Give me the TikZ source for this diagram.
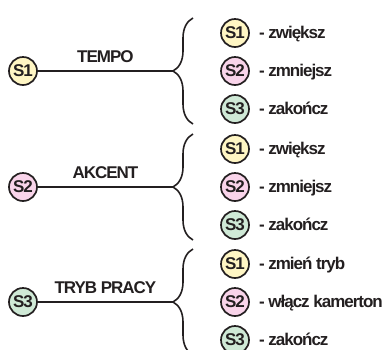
\documentclass[tikz,border=0pt]{standalone}
\usepackage{fontspec}
\setmainfont{Liberation Sans}
\newfontfamily\heavy{Liberation Sans}[LetterSpace=-6]
\usepackage{tikz}
\usetikzlibrary{positioning,decorations.pathreplacing}
\definecolor{ink}{HTML}{231F20}
\definecolor{sone}{HTML}{FFF6C4}
\definecolor{stwo}{HTML}{F9D4EA}
\definecolor{sthree}{HTML}{CFE9D6}
\newcommand{\txt}{\heavy\bfseries\fontsize{17}{20}\selectfont}

\begin{document}
\begin{tikzpicture}[x=1pt, y=-1pt,
  key/.style={draw=ink, circle, line width=1.7pt, minimum size=28pt, inner sep=0pt,
              font=\txt, text=ink, fill=#1},
  act/.style={font=\txt, text=ink, inner sep=0pt},
  lbl/.style={font=\txt, text=ink, inner sep=0pt, above=8pt},
  wire/.style={draw=ink, line width=1.6pt},
  brc/.style={draw=ink, line width=1.6pt, decorate, decoration={brace, amplitude=20pt}}]
  \useasboundingbox (0,0) rectangle (387,349);
  % group 1: tempo
  \node[key=sone]   (m1) at (23,71)   {S1};
  \coordinate (t1) at (173,71);
  \coordinate (b1a) at (193,124);
  \coordinate (b1b) at (193,18);
  \node[key=sone]   (a11) at (235,33)  {S1};
  \node[key=stwo]   (a12) at (235,71)  {S2};
  \node[key=sthree] (a13) at (235,109) {S3};
  \node[act, base right=9pt of a11] (x11) {- zwiększ};
  \node[act, base right=9pt of a12] (x12) {- zmniejsz};
  \node[act, base right=9pt of a13] (x13) {- zakończ};
  \draw[wire] (m1) -- node[lbl] {TEMPO} (t1);
  \draw[brc] (b1a) -- (b1b);
  % group 2: akcent
  \node[key=stwo]   (m2) at (23,187)  {S2};
  \coordinate (t2) at (173,187);
  \coordinate (b2a) at (193,240);
  \coordinate (b2b) at (193,134);
  \node[key=sone]   (a21) at (235,149) {S1};
  \node[key=stwo]   (a22) at (235,187) {S2};
  \node[key=sthree] (a23) at (235,225) {S3};
  \node[act, base right=9pt of a21] (x21) {- zwiększ};
  \node[act, base right=9pt of a22] (x22) {- zmniejsz};
  \node[act, base right=9pt of a23] (x23) {- zakończ};
  \draw[wire] (m2) -- node[lbl] {AKCENT} (t2);
  \draw[brc] (b2a) -- (b2b);
  % group 3: tryb pracy
  \node[key=sthree] (m3) at (23,302)  {S3};
  \coordinate (t3) at (173,302);
  \coordinate (b3a) at (193,355);
  \coordinate (b3b) at (193,249);
  \node[key=sone]   (a31) at (235,264) {S1};
  \node[key=stwo]   (a32) at (235,302) {S2};
  \node[key=sthree] (a33) at (235,340) {S3};
  \node[act, base right=9pt of a31] (x31) {- zmień tryb};
  \node[act, base right=9pt of a32] (x32) {- włącz kamerton};
  \node[act, base right=9pt of a33] (x33) {- zakończ};
  \draw[wire] (m3) -- node[lbl] {TRYB PRACY} (t3);
  \draw[brc] (b3a) -- (b3b);
\end{tikzpicture}
\end{document}
